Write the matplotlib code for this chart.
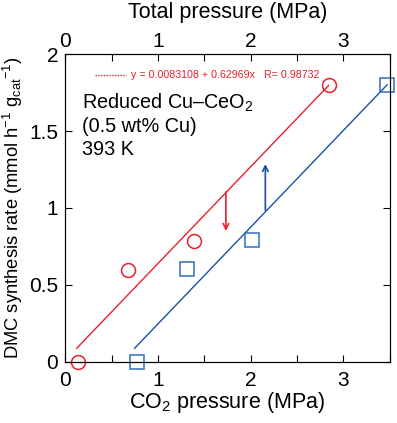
import numpy as np
import matplotlib
matplotlib.use("Agg")
import matplotlib.pyplot as plt
from matplotlib.ticker import MultipleLocator

# Data
co2_pressure = [0.136, 0.68, 1.387, 2.84]
rate_red = [0.0, 0.595, 0.788, 1.797]
total_pressure = [0.778, 1.315, 2.014, 3.47]
rate_blue = [0.0, 0.6, 0.79, 1.8]
fit_intercept = 0.0083108
fit_slope = 0.62969
fit_r = 0.98732
red_line_x = [0.125, 2.84]
blue_line_x = [0.749, 3.47]
x_ticks = [0, 1, 2, 3]
x_minor = [0.5, 1.5, 2.5, 3.5]
y_ticks = [0, 0.5, 1, 1.5, 2]
y_labels = ['0', '0.5', '1', '1.5', '2']

RED = "#e8202a"
BLUE_M = "#2f6fbd"
BLUE_L = "#1a4fa0"

plt.rcParams['font.family'] = ['Liberation Sans', 'DejaVu Sans']
plt.rcParams['mathtext.fontset'] = 'custom'
plt.rcParams['mathtext.rm'] = 'Liberation Sans'
plt.rcParams['mathtext.it'] = 'Liberation Sans:italic'

fig = plt.figure(figsize=(3.97, 4.23), dpi=100)
ax = fig.add_axes([0.164, 0.145, 0.818, 0.727])

# red fit line
rx = np.array(red_line_x)
ax.plot(rx, fit_intercept + fit_slope * rx, color=RED, lw=1.0)
# blue line: same fit shifted to total pressure
bx = np.array(blue_line_x)
b_off = bx[0] - rx[0]
ax.plot(bx, fit_intercept + fit_slope * (bx - b_off), color=BLUE_L, lw=1.0)

ax.plot(co2_pressure, rate_red, 'o', mfc='none', mec=RED, ms=10, mew=1.1, clip_on=False, zorder=5)
ax.plot(total_pressure, rate_blue, 's', mfc='none', mec=BLUE_M, ms=10, mew=1.1, clip_on=False, zorder=5)

# arrows
ax.annotate('', xy=(1.733, 0.85), xytext=(1.733, 1.104),
            arrowprops=dict(arrowstyle='->', color=RED, lw=1.2, shrinkA=0, shrinkB=0))
ax.annotate('', xy=(2.158, 1.285), xytext=(2.158, 0.985),
            arrowprops=dict(arrowstyle='->', color=BLUE_L, lw=1.2, shrinkA=0, shrinkB=0))

# fit legend
ax.plot([0.317, 0.654], [1.862, 1.862], color=RED, lw=1.0, ls=(0, (1, 1)))
ax.text(0.715, 1.862, 'y = 0.0083108 + 0.62969x   R= %.5f' % fit_r, color=RED,
        fontsize=7.7, va='center', ha='left')

ax.text(0.18, 1.647, 'Reduced Cu\u2013CeO$_2$', fontsize=14.3, va='baseline')
ax.text(0.18, 1.492, '(0.5 wt% Cu)', fontsize=14.3, va='baseline')
ax.text(0.18, 1.342, '393 K', fontsize=14.3, va='baseline')

ax.set_xlim(0, 3.5)
ax.set_ylim(0, 2)
ax.set_xticks(x_ticks)
ax.set_xticks(x_minor, minor=True)
ax.set_yticks(y_ticks)
ax.set_yticklabels(y_labels)
ax.tick_params(which='both', direction='in', top=False, right=True,
               labelsize=15, length=5, width=0.8)
ax.tick_params(axis='x', which='both', pad=6.5)
ax.tick_params(axis='y', which='both', pad=5)
for s in ax.spines.values():
    s.set_linewidth(0.8)

top = ax.twiny()
top.set_xlim(0, 3.5)
top.set_xticks(x_ticks)
top.set_xticks(x_minor, minor=True)
top.tick_params(which='both', direction='in', labelsize=15, length=5, width=0.8, pad=2)
for s in top.spines.values():
    s.set_linewidth(0.8)

ax.set_xlabel('CO$_2$ pressure (MPa)', fontsize=15.5, labelpad=0)
ax.set_ylabel('DMC synthesis rate (mmol h$^{-1}$ g$_{\\rm cat}$$^{-1}$)', fontsize=13.2, labelpad=3)
ax.text(0.5, 1.117, 'Total pressure (MPa)', transform=ax.transAxes, ha='center',
        va='baseline', fontsize=15.5)

fig.savefig('out.png', dpi=100)
